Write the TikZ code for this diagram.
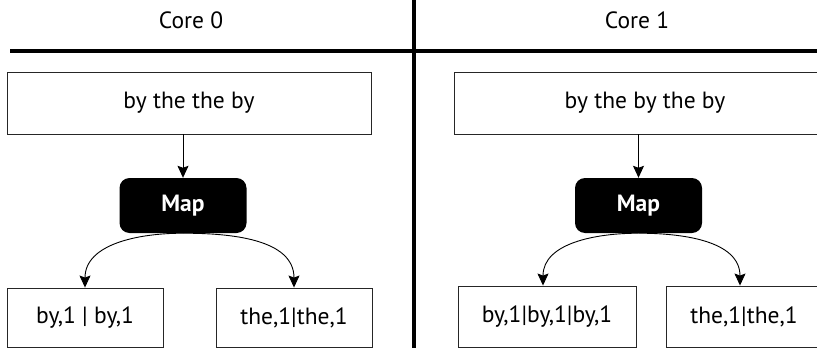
\documentclass[tikz,border=0pt]{standalone}
\usepackage{fontspec}
\setmainfont{PT Sans}
\usetikzlibrary{arrows.meta}
\begin{document}
\begin{tikzpicture}[x=1pt,y=-1pt,
  every node/.style={inner sep=0pt, font=\fontsize{23.5}{28}\selectfont},
  databox/.style={draw=black!85, line width=0.9pt, fill=white},
  mapbox/.style={fill=black, rounded corners=10pt, text=white,
    font=\fontsize{23.5}{28}\selectfont\bfseries, minimum width=127pt, minimum height=55pt},
  divider/.style={line width=3.5pt},
  flow/.style={line width=0.9pt, -{Stealth[length=12pt,width=11pt,inset=2pt]}}]
\useasboundingbox (0,0) rectangle (817,348);
\clip (0,0) rectangle (817,348);

% column dividers
\draw[divider] (10,51) -- (817,51);
\draw[divider] (414,0) -- (414,348);

% column titles
\node (c0) at (191,20) {Core 0};
\node (c1) at (637,20) {Core 1};

% Core 0
\node[databox, minimum width=364pt, minimum height=62pt] (in0) at (189,103) {by the the by};
\node[mapbox] (map0) at (183,205.5) {Map};
\node[databox, minimum width=156pt, minimum height=59pt] (a0) at (85,317.5) {by,1 | by,1};
\node[databox, minimum width=156pt, minimum height=59pt] (b0) at (294,317.5) {the,1|the,1};
\draw[flow] (in0.south -| map0.north) -- (map0.north);
\draw[flow] (map0.south) to[out=180,in=90] (a0.north);
\draw[flow] (map0.south) to[out=0,in=90] (b0.north);

% Core 1
\node[databox, minimum width=382pt, minimum height=62pt] (in1) at (645,103) {by the by the by};
\node[mapbox] (map1) at (638.5,205.5) {Map};
\node[databox, minimum width=178pt, minimum height=61pt] (a1) at (547,316.5) {by,1|by,1|by,1};
\node[databox, minimum width=156pt, minimum height=61pt] (b1) at (744,316.5) {the,1|the,1};
\draw[flow] (in1.south -| map1.north) -- (map1.north);
\draw[flow] (map1.south) to[out=180,in=90] ([xshift=-4pt]a1.north);
\draw[flow] (map1.south) to[out=0,in=90] ([xshift=-4pt]b1.north);
\end{tikzpicture}
\end{document}
